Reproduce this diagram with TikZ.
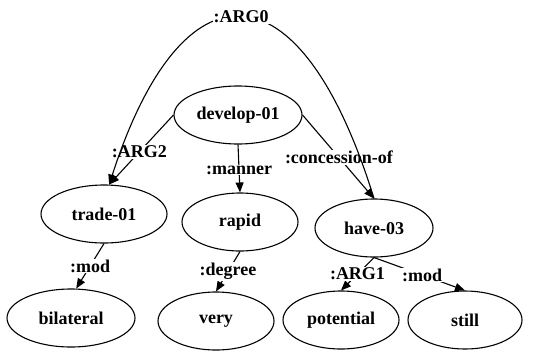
\documentclass[tikz,border=0pt]{standalone}
\usepackage{fontspec}
\setmainfont{Liberation Serif}
\usetikzlibrary{shapes.geometric,arrows.meta}
\begin{document}
\begin{tikzpicture}[x=1pt,y=-1pt,line width=1.1pt,
  concept/.style={draw,ellipse,inner sep=0pt,minimum width=116pt,minimum height=58pt,
    font=\fontsize{18}{20}\selectfont\bfseries},
  rel/.style={fill=white,inner sep=1pt,font=\fontsize{18}{20}\selectfont\bfseries},
  edge/.style={-{Triangle[length=10pt,width=8pt]}}]
\useasboundingbox (0,0) rectangle (548,354);

\node[concept,minimum width=128pt] (dev) at (238,115) {develop-01};
\node[concept,minimum width=126pt] (trade) at (104,214) {trade-01};
\node[concept] (rapid) at (240,222) {rapid};
\node[concept,minimum width=118pt] (have) at (374,228) {have-03};
\node[concept,minimum width=128pt] (bil) at (71,318) {bilateral};
\node[concept] (very) at (216,321) {very};
\node[concept] (pot) at (341,320) {potential};
\node[concept,minimum width=114pt] (still) at (465,320) {still};

\draw[edge] (dev.west) -- node[rel,pos=0.53] {:ARG2} (trade.80);
\draw[edge] (dev.south) -- node[rel,pos=0.53] {:manner} (rapid.north);
\draw[edge] (dev.east) -- node[rel,pos=0.51] {:concession-of} (have.north);
\draw[edge] (have.north) .. controls (300,-41) and (182,-41) .. node[rel,pos=0.5] {:ARG0} (trade.80);

\draw[edge] (trade.south) -- node[rel,pos=0.5] {:mod} (bil.80);
\draw[edge] (rapid.south) -- node[rel,pos=0.5] {:degree} (very.north);
\draw[edge] (have.south) -- node[rel,pos=0.5] {:ARG1} (pot.north);
\draw[edge] (have.south) -- node[rel,pos=0.53] {:mod} (still.north);
\end{tikzpicture}
\end{document}
